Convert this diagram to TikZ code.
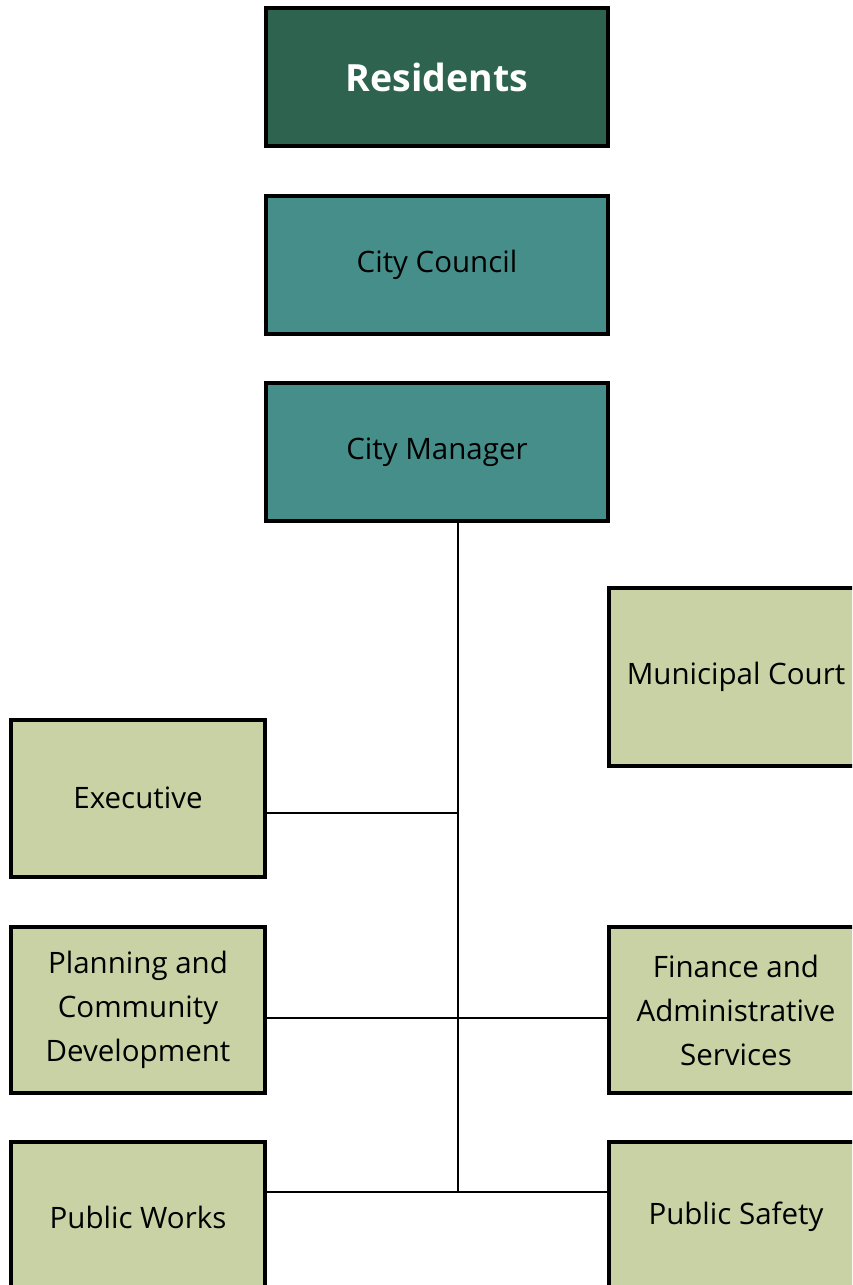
\documentclass[tikz,border=0pt]{standalone}
\usepackage{fontspec}
\setmainfont{Open Sans}
\definecolor{darkgreen}{HTML}{2D634F}
\definecolor{teal}{HTML}{468E8A}
\definecolor{sage}{HTML}{C9D2A4}
\tikzset{
  box/.style={draw=black, line width=4pt, minimum width=342pt, minimum height=138pt, inner sep=0pt, align=center, font=\fontsize{29.5}{44}\selectfont},
  dept/.style={box, fill=sage, minimum width=254pt},
  conn/.style={line width=2pt}
}
\begin{document}
\begin{tikzpicture}[x=1pt, y=-1pt]
\useasboundingbox (0,0) rectangle (852,1285);
\clip (0,0) rectangle (852,1285);

\node[box, fill=darkgreen, text=white, font=\fontsize{37.5}{44}\selectfont\bfseries] (res) at (437,77) {Residents};
\node[box, fill=teal] (council) at (437,265) {City Council};
\node[box, fill=teal] (mgr) at (437,452) {City Manager};

% departments, the right column runs past the edge
\node[dept, minimum height=178pt] (court) at (736,677) {Municipal Court};
\node[dept, minimum height=157pt] (exec) at (138,798) {Executive};
\node[dept, minimum height=166pt] (plan) at (138,1010) {Planning and\\Community\\Development};
\node[dept, minimum height=166pt] (fin) at (736,1010) {Finance and\\Administrative\\Services};
\node[dept, minimum height=150pt] (works) at (138,1217) {Public Works};
\node[dept, minimum height=150pt] (safety) at (736,1217) {Public Safety};

\coordinate (top) at (458,522);
\coordinate (bottom) at (458,1192);
\draw[conn] (top) -- (bottom);
\draw[conn] ([yshift=-15pt]exec.east) -- ([yshift=-15pt]exec.east -| top);
\draw[conn] ([yshift=-8pt]plan.east) -- ([yshift=-8pt]fin.west);
\draw[conn] (works.east |- bottom) -- (safety.west |- bottom);

\end{tikzpicture}
\end{document}
